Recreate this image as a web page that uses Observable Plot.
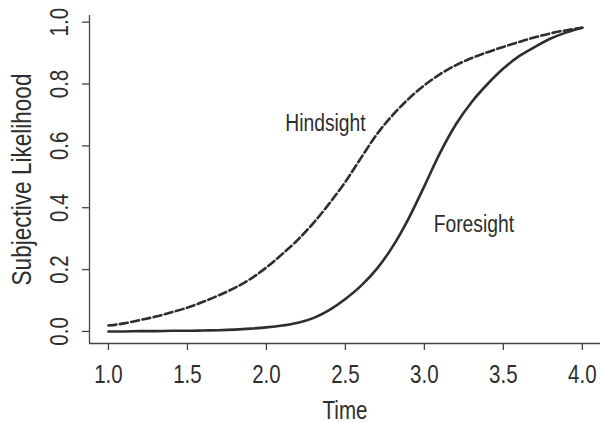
<!DOCTYPE html>
<html><head><meta charset="utf-8">
<script src="https://cdn.jsdelivr.net/npm/d3@7"></script>
<script src="https://cdn.jsdelivr.net/npm/@observablehq/plot@0.6"></script>
<style>
html,body{margin:0;padding:0;background:#fff;}
#chart svg{display:block;}
</style></head><body><div id="chart"></div>
<script>
const time = [1.0,1.1,1.2,1.3,1.4,1.5,1.6,1.7,1.8,1.9,2.0,2.1,2.2,2.3,2.4,2.5,2.6,2.7,2.8,2.9,3.0,3.1,3.2,3.3,3.4,3.5,3.6,3.7,3.8,3.9,4.0];
const foresight = [0.000,0.000,0.001,0.001,0.002,0.002,0.003,0.004,0.006,0.009,0.013,0.019,0.028,0.044,0.070,0.105,0.148,0.203,0.275,0.365,0.470,0.578,0.670,0.742,0.800,0.850,0.890,0.920,0.947,0.967,0.982];
const hindsight = [0.019,0.026,0.037,0.048,0.062,0.077,0.096,0.117,0.141,0.170,0.207,0.250,0.297,0.352,0.415,0.484,0.562,0.638,0.700,0.752,0.796,0.832,0.861,0.884,0.903,0.920,0.936,0.951,0.964,0.974,0.982];
const xTicks = [1.0,1.5,2.0,2.5,3.0,3.5,4.0];
const yTicks = [0.0,0.2,0.4,0.6,0.8,1.0];
const labelNames = ["Hindsight","Foresight"];
const labelTime = [2.374,3.313];
const labelValue = [0.672,0.346];
const xTitle = "Time";
const yTitle = "Subjective Likelihood";

const xDomain = [0.88, 4.115];
const yDomain = [-0.039, 1.0215];

const rows = [];
time.forEach((t,i)=>{
  rows.push({series:"Foresight", t, v: foresight[i]});
  rows.push({series:"Hindsight", t, v: hindsight[i]});
});
const labels = labelNames.map((n,i)=>({name:n, t:labelTime[i], v:labelValue[i]}));

const font = "'Liberation Sans',Arial,Helvetica,sans-serif";
const ink = "#2e2e2e";
const axisInk = "#444";

const chart = Plot.plot({
  width: 600,
  height: 423,
  marginLeft: 89,
  marginRight: 0,
  marginTop: 15,
  marginBottom: 80,
  style: {fontFamily: font, background: "#fff", color: ink},
  x: {domain: xDomain, axis: null},
  y: {domain: yDomain, axis: null},
  marks: [
    Plot.ruleX([xDomain[0]], {stroke: axisInk, strokeWidth: 1.3}),
    Plot.ruleY([yDomain[0]], {stroke: axisInk, strokeWidth: 1.3}),
    Plot.axisX(xTicks, {tickSize: 7, tickPadding: 15, tickFormat: d=>d.toFixed(1), fontSize: 25, stroke: axisInk, strokeWidth: 1.3, label: null, fill: ink}),
    Plot.axisY(yTicks, {tickSize: 7, tickFormat: () => "", stroke: axisInk, strokeWidth: 1.3, label: null}),
    Plot.text(yTicks, {y: d=>d, frameAnchor: "left", dx: -30, rotate: -90, textAnchor: "middle", text: d=>d.toFixed(1), fontSize: 25, fill: ink}),
    Plot.text([xTitle], {frameAnchor: "bottom", dy: 67, textAnchor: "middle", text: d=>d, fontSize: 25, fill: ink, lineAnchor: "middle"}),
    Plot.text([yTitle], {frameAnchor: "left", dx: -67, rotate: -90, textAnchor: "middle", text: d=>d, fontSize: 27.5, fill: ink}),
    Plot.line(rows.filter(d=>d.series==="Foresight"), {x:"t", y:"v", stroke: ink, strokeWidth: 2.6, curve: "monotone-x"}),
    Plot.line(rows.filter(d=>d.series==="Hindsight"), {x:"t", y:"v", stroke: ink, strokeWidth: 2.6, strokeDasharray: "8,3.5", curve: "monotone-x"}),
    Plot.text(labels, {x:"t", y:"v", text:"name", fontSize: 23.5, fill: ink})
  ]
});
document.getElementById("chart").appendChild(chart);
// condense glyphs horizontally to mimic a narrow sans (text remains real text)
chart.querySelectorAll("text").forEach(t => {
  const len = t.getComputedTextLength();
  if (len > 0) {
    t.setAttribute("textLength", (len * 0.82).toFixed(2));
    t.setAttribute("lengthAdjust", "spacingAndGlyphs");
  }
});
</script></body></html>
